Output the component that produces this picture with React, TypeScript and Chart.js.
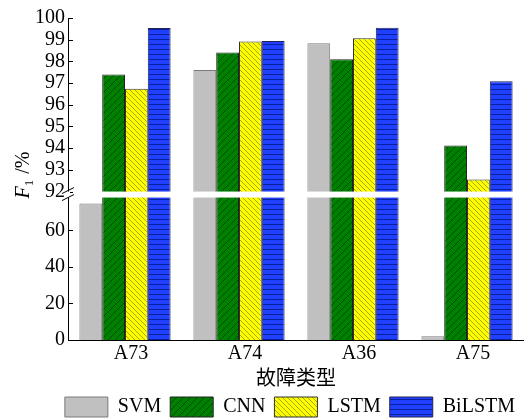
import React, { useEffect, useRef } from 'react';
import { Chart, registerables, LinearScale } from 'chart.js';

const categories = ['A73', 'A74', 'A36', 'A75'];
const seriesNames = ['SVM', 'CNN', 'LSTM', 'BiLSTM'];
const svmValues = [74.7, 97.6, 98.84, 2.0];
const cnnValues = [97.39, 98.41, 98.1, 94.12];
const lstmValues = [96.74, 98.92, 99.07, 92.56];
const bilstmValues = [99.54, 98.94, 99.55, 97.08];
const yTickValues = [0, 20, 40, 60, 92, 93, 94, 95, 96, 97, 98, 99, 100];
const lowerMax = 78;
const upperMin = 92;
const yMaxValue = 100;

const SERIF = "'Liberation Serif', 'Times New Roman', 'Noto Sans CJK SC', serif";

class BrokenScale extends LinearScale {
  static id = 'broken';
  static defaults = {};
  seg() {
    const o: any = this.options;
    const h = this.bottom - this.top;
    const upperH = h * o.upperFrac;
    const yUpperBottom = this.top + upperH;
    const yLowerTop = yUpperBottom + o.gapPx;
    return { yUpperBottom, yLowerTop, upperH };
  }
  getPixelForValue(v: number) {
    const { yUpperBottom, yLowerTop, upperH } = this.seg();
    if (v >= upperMin) return yUpperBottom - ((v - upperMin) / (yMaxValue - upperMin)) * upperH;
    if (v <= lowerMax) return this.bottom - (v / lowerMax) * (this.bottom - yLowerTop);
    return yLowerTop - ((v - lowerMax) / (upperMin - lowerMax)) * (yLowerTop - yUpperBottom);
  }
  getValueForPixel(p: number) {
    const { yUpperBottom, yLowerTop, upperH } = this.seg();
    if (p <= yUpperBottom) return upperMin + ((yUpperBottom - p) / upperH) * (yMaxValue - upperMin);
    if (p >= yLowerTop) return ((this.bottom - p) / (this.bottom - yLowerTop)) * lowerMax;
    return lowerMax + ((yLowerTop - p) / (yLowerTop - yUpperBottom)) * (upperMin - lowerMax);
  }
}

Chart.register(...registerables, BrokenScale);

function makePattern(bg: string, line: string, kind: 'fwd' | 'back' | 'horiz', s: number) {
  const c = document.createElement('canvas');
  c.width = s;
  c.height = s;
  const g = c.getContext('2d')!;
  g.fillStyle = bg;
  g.fillRect(0, 0, s, s);
  g.strokeStyle = line;
  g.lineWidth = 1;
  g.beginPath();
  if (kind === 'fwd') {
    g.moveTo(-1, s + 1);
    g.lineTo(s + 1, -1);
    g.moveTo(-1, 1);
    g.lineTo(1, -1);
    g.moveTo(s - 1, s + 1);
    g.lineTo(s + 1, s - 1);
  } else if (kind === 'back') {
    g.moveTo(-1, -1);
    g.lineTo(s + 1, s + 1);
    g.moveTo(s - 1, -1);
    g.lineTo(s + 1, 1);
    g.moveTo(-1, s - 1);
    g.lineTo(1, s + 1);
  } else {
    g.moveTo(0, s - 0.5);
    g.lineTo(s, s - 0.5);
  }
  g.stroke();
  return g.createPattern(c, 'repeat')!;
}

const decorPlugin = {
  id: 'decor',
  afterDatasetsDraw(chart: any) {
    const ctx = chart.ctx;
    const y: any = chart.scales.y;
    const { left, right } = chart.chartArea;
    const { yUpperBottom, yLowerTop } = y.seg();
    ctx.save();
    ctx.fillStyle = '#ffffff';
    ctx.fillRect(left + 1, yUpperBottom, right - left, yLowerTop - yUpperBottom);
    ctx.restore();
  },
  afterDraw(chart: any) {
    const ctx = chart.ctx;
    const y: any = chart.scales.y;
    const { left } = chart.chartArea;
    const { yUpperBottom, yLowerTop } = y.seg();
    ctx.save();
    ctx.strokeStyle = '#000';
    ctx.lineWidth = 1;
    ctx.beginPath();
    for (const t of y.ticks) {
      const py = Math.round(y.getPixelForValue(t.value)) + 0.5;
      ctx.moveTo(left, py);
      ctx.lineTo(left + 5, py);
    }
    ctx.stroke();
    ctx.fillStyle = '#fff';
    ctx.fillRect(left - 2, yUpperBottom, 4, yLowerTop - yUpperBottom);
    ctx.strokeStyle = '#000';
    ctx.beginPath();
    ctx.moveTo(left - 6, yUpperBottom + 2);
    ctx.lineTo(left + 6, yUpperBottom - 4);
    ctx.moveTo(left - 6, yLowerTop + 3);
    ctx.lineTo(left + 6, yLowerTop - 3);
    ctx.stroke();
    ctx.translate(22, 175);
    ctx.rotate(-Math.PI / 2);
    ctx.fillStyle = '#000';
    ctx.textBaseline = 'alphabetic';
    const fMain = `italic 20px ${SERIF}`;
    const fSub = `13px ${SERIF}`;
    const fRest = `20px ${SERIF}`;
    ctx.font = fMain;
    const wF = ctx.measureText('F').width;
    ctx.font = fSub;
    const w1 = ctx.measureText('1').width;
    ctx.font = fRest;
    const wR = ctx.measureText(' /%').width;
    const total = wF + w1 + 1 + wR;
    let x = -total / 2;
    const base = 7;
    ctx.font = fMain;
    ctx.fillText('F', x, base);
    x += wF;
    ctx.font = fSub;
    ctx.fillText('1', x, base + 4);
    x += w1 + 1;
    ctx.font = fRest;
    ctx.fillText(' /%', x, base);
    ctx.restore();
  },
};

export default function App() {
  const ref = useRef<HTMLCanvasElement>(null);
  useEffect(() => {
    const canvas = ref.current!;
    const patCNN = makePattern('#008000', '#004d00', 'fwd', 7);
    const patLSTM = makePattern('#ffff00', '#a8a800', 'back', 5);
    const patBi = makePattern('#2040ff', '#0a1f9e', 'horiz', 5);
    const values = [svmValues, cnnValues, lstmValues, bilstmValues];
    const fills: any[] = ['#c0c0c0', patCNN, patLSTM, patBi];
    const borders = ['#7a7a7a', '#222222', '#333333', '#222255'];
    const chart = new Chart(canvas, {
      type: 'bar',
      data: {
        labels: categories,
        datasets: seriesNames.map((name, i) => ({
          label: name,
          data: values[i],
          backgroundColor: fills[i],
          borderColor: borders[i],
          borderWidth: 1,
          barPercentage: 1,
          categoryPercentage: 0.8,
        })),
      },
      options: {
        responsive: false,
        animation: false,
        devicePixelRatio: 1,
        layout: { padding: { top: 18, left: 0, right: 0, bottom: -7 } },
        plugins: {
          tooltip: { enabled: false },
          legend: {
            position: 'bottom',
            align: 'end',
            labels: {
              boxWidth: 43,
              boxHeight: 20,
              padding: 9,
              color: '#000',
              font: { family: SERIF, size: 20 },
            },
          },
        },
        scales: {
          x: {
            type: 'category',
            grid: { display: false, drawTicks: false },
            border: { display: true, color: '#000', width: 1 },
            ticks: { color: '#000', font: { family: SERIF, size: 20 }, labelOffset: 6, padding: 2, maxRotation: 0 },
            title: { display: true, text: '故障类型', color: '#000', font: { family: SERIF, size: 20 }, padding: { top: 0, bottom: -4 } },
          },
          y: {
            type: 'broken' as any,
            min: 0,
            max: yMaxValue,
            upperFrac: 0.539,
            gapPx: 6,
            grid: { display: false, drawTicks: false },
            border: { display: true, color: '#000', width: 1 },
            ticks: {
              color: '#000',
              font: { family: SERIF, size: 20 },
              padding: 3,
              autoSkip: false,
              callback: (v: any) => String(v),
            },
            afterBuildTicks: (scale: any) => {
              scale.ticks = yTickValues.map((v) => ({ value: v }));
            },
            afterFit: (scale: any) => {
              scale.width = 68;
            },
          } as any,
        },
      },
      plugins: [decorPlugin],
    });
    return () => chart.destroy();
  }, []);
  return (
    <div style={{ position: 'fixed', left: 0, top: 0, width: 524, height: 420, background: '#fff' }}>
      <canvas ref={ref} width={524} height={420} />
    </div>
  );
}
